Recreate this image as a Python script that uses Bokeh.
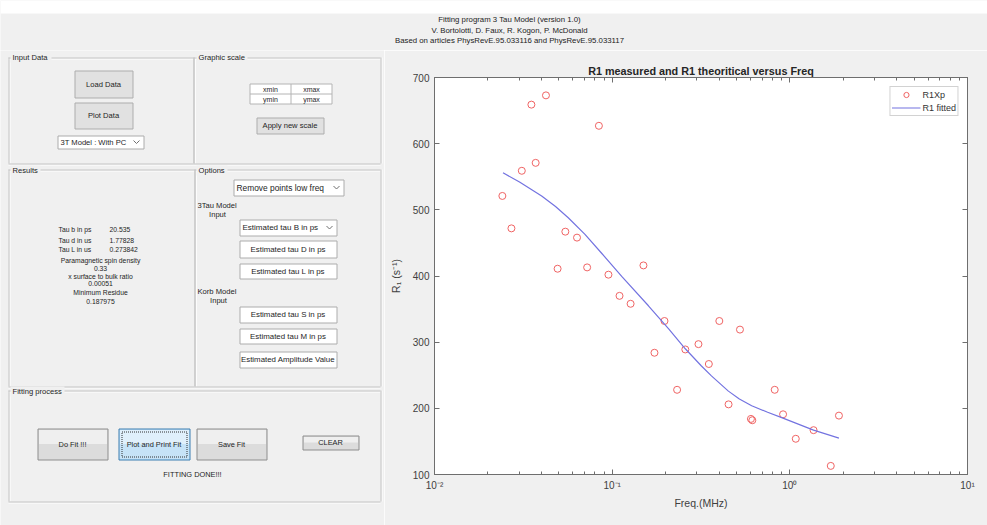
from bokeh.plotting import figure
from bokeh.models import Range1d, FixedTicker, LogAxis, LinearAxis, CustomJSTickFormatter
from bokeh.layouts import column, row
from bokeh.embed import file_html
from bokeh.resources import INLINE
from bokeh.core.properties import value

# ---------------- chart data ----------------
freq_mhz = [0.0241, 0.0271, 0.0310, 0.0351, 0.0371, 0.0424, 0.0493, 0.0545,
            0.0634, 0.0723, 0.0842, 0.0953, 0.110, 0.127, 0.150, 0.173,
            0.197, 0.232, 0.258, 0.306, 0.350, 0.401, 0.452, 0.524,
            0.604, 0.615, 0.822, 0.916, 1.08, 1.36, 1.70, 1.89]
r1_measured = [521, 472, 559, 659, 571, 673, 411, 467,
               458, 413, 627, 402, 370, 358, 416, 284,
               332, 228, 289, 297, 267, 332, 206, 319,
               184, 182, 228, 191, 154, 167, 113, 189]
fit_freq_mhz = [0.0243, 0.0301, 0.0401, 0.048, 0.0566, 0.0703, 0.0875, 0.1135,
                0.160, 0.208, 0.258, 0.318, 0.362, 0.451, 0.52, 0.61,
                0.75, 0.90, 1.36, 1.89]
r1_fitted = [556, 542, 521, 505, 488, 463, 434, 399,
             355, 320, 290, 264, 249, 226, 214, 204,
             194, 186, 167, 155]

x_tick_values = [0.01, 0.1, 1, 10]
x_tick_labels = ["10\u207b\u00b2", "10\u207b\u00b9", "10\u2070", "10\u00b9"]
y_tick_values = [100, 200, 300, 400, 500, 600, 700]

series_names = ["R1Xp", "R1 fitted"]
chart_title = "R1 measured and R1 theoritical versus Freq"
x_label = "Freq.(MHz)"
y_label = "R\u2081 (s\u207b\u00b9)"

header_lines = ["Fitting program 3 Tau Model (version 1.0)",
                "V. Bortolotti, D. Faux, R. Kogon, P. McDonald",
                "Based on articles PhysRevE.95.033116 and PhysRevE.95.033117"]
result_names = ["Tau b in ps", "Tau d in us", "Tau L in us"]
result_values = ["20.535", "1.77828", "0.273842"]
result_block = ["Paramagnetic spin density", "0.33", "x surface to bulk ratio",
                "0.00051", "Minimum Residue", "0.187975"]

# ---------------- styles ----------------
FONT = "Liberation Sans"
BG = "#f0f0f0"
TXT = "#1e1e1e"
AX = "#6e6e6e"
AXT = "#404040"
RED = "#f06464"
BLUE = "#7373e0"


def bare_fig(w, h, x1, y0, y1):
    f = figure(width=w, height=h, x_range=Range1d(0, x1), y_range=Range1d(y1, y0),
               output_backend="svg", toolbar_location=None, min_border=0,
               x_axis_location=None, y_axis_location=None, frame_align=False,
               background_fill_color=BG, border_fill_color=BG, outline_line_color=None)
    f.xgrid.visible = False
    f.ygrid.visible = False
    return f


def txt(f, x, y, s, size="7.5px", align="left", color=TXT, style="normal"):
    f.text(x=[x], y=[y], text=[s], text_align=align, text_baseline="middle",
           text_font=value(FONT), text_font_size=value(size), text_color=color,
           text_font_style=style)


# ---------------- header strip ----------------
top = bare_fig(987, 50, 987, 0, 50)
top.quad(left=[0], right=[987], top=[0], bottom=[13], fill_color="white", line_color=None)
for i, s in enumerate(header_lines):
    txt(top, 509, 19 + i * 10.5, s, size="7.8px", align="center", color="#222222")

# ---------------- left GUI ----------------
L = bare_fig(384, 475, 384, 50, 525)

gx0, gy0, gx1, gy1 = [], [], [], []
wx0, wy0, wx1, wy1 = [], [], [], []


def hline(x0, x1, y):
    gx0.append(x0); gx1.append(x1); gy0.append(y + 0.5); gy1.append(y + 0.5)
    wx0.append(x0); wx1.append(x1); wy0.append(y + 1.5); wy1.append(y + 1.5)


def vline(x, y0, y1):
    gx0.append(x + 0.5); gx1.append(x + 0.5); gy0.append(y0); gy1.append(y1)
    wx0.append(x + 1.5); wx1.append(x + 1.5); wy0.append(y0); wy1.append(y1)


def panel(x0, x1, y0, y1):
    hline(x0, x1, y0); hline(x0, x1, y1); vline(x0, y0, y1); vline(x1, y0, y1)


panel(8, 193, 57, 163)
panel(193, 380, 57, 163)
panel(8, 194, 169, 386)
panel(194, 380, 169, 386)
panel(8, 380, 390, 501)
L.segment(x0=wx0, y0=wy0, x1=wx1, y1=wy1, line_color="white", line_width=1)
L.segment(x0=gx0, y0=gy0, x1=gx1, y1=gy1, line_color="#c4c4c4", line_width=1)

panel_labels = [("Input Data", 12, 57, 37), ("Graphic scale", 198, 57, 47),
                ("Results", 12, 170, 26), ("Options", 198, 170, 27),
                ("Fitting process", 12, 391, 50)]
for s, x, y, w in panel_labels:
    L.quad(left=[x - 2], right=[x + w + 2], top=[y - 5], bottom=[y + 5], fill_color=BG, line_color=None)
    txt(L, x, y, s, size="7.6px")


def box(x0, x1, y0, y1, fill="white", line="#acacac"):
    L.quad(left=[x0 + 0.5], right=[x1 + 0.5], top=[y0 + 0.5], bottom=[y1 + 0.5],
           fill_color=fill, line_color=line, line_width=1)


def flat_button(x0, x1, y0, y1, label, size="7.6px"):
    box(x0, x1, y0, y1, fill="#e1e1e1", line="#adadad")
    txt(L, (x0 + x1) / 2, (y0 + y1) / 2, label, size=size, align="center")


def chevron(cx, cy):
    L.line(x=[cx - 3, cx, cx + 3], y=[cy - 1.5, cy + 1.5, cy - 1.5], line_color="#707070", line_width=1)


def dropdown(x0, x1, y0, y1, label, size="7.8px"):
    box(x0, x1, y0, y1, fill="white", line="#acacac")
    txt(L, x0 + 3, (y0 + y1) / 2, label, size=size)
    chevron(x1 - 7, (y0 + y1) / 2)


def edit(x0, x1, y0, y1, label, size="7.9px"):
    box(x0, x1, y0, y1, fill="white", line="#acacac")
    txt(L, (x0 + x1) / 2, (y0 + y1) / 2, label, size=size, align="center")


def win_button(x0, x1, y0, y1, label, base="#dcdcdc", upper="#efefef", line="#8e8e8e", focus=False):
    box(x0, x1, y0, y1, fill=base, line=line)
    L.quad(left=[x0 + 1.5], right=[x1 - 0.5], top=[y0 + 1.5], bottom=[(y0 + y1) / 2],
           fill_color=upper, line_color=None)
    if focus:
        L.quad(left=[x0 + 3.5], right=[x1 - 2.5], top=[y0 + 3.5], bottom=[y1 - 2.5],
               fill_color=None, line_color="#333333", line_width=1, line_dash="1 1")
    txt(L, (x0 + x1) / 2, (y0 + y1) / 2, label, size="7.4px", align="center")


# Input Data
flat_button(74, 132, 70, 97, "Load Data")
flat_button(74, 132, 102, 128, "Plot Data")
dropdown(57, 143, 135, 148, "3T Model : With PC", size="7.6px")

# Graphic scale
box(249, 331, 83, 103, fill="white", line="#b4b4b4")
L.segment(x0=[290.5, 249.5], y0=[83.5, 93.5], x1=[290.5, 331.5], y1=[103.5, 93.5],
          line_color="#b4b4b4", line_width=1)
txt(L, 270, 88.5, "xmin", size="7px", align="center")
txt(L, 311, 88.5, "xmax", size="7px", align="center")
txt(L, 270, 98.5, "ymin", size="7px", align="center")
txt(L, 311, 98.5, "ymax", size="7px", align="center")
flat_button(256, 323, 117, 133, "Apply new scale")

# Results
for i, (n, v) in enumerate(zip(result_names, result_values)):
    yy = [229, 239.7, 249.3][i]
    txt(L, 58, yy, n, size="6.8px")
    txt(L, 109, yy, v, size="6.8px")
for i, s in enumerate(result_block):
    yy = [260, 267.7, 275.7, 283.3, 291.7, 300.7][i]
    txt(L, 100, yy, s, size="6.8px", align="center")

# Options
dropdown(233, 343, 179, 195, "Remove points low freq", size="8.4px")
txt(L, 197, 205, "3Tau Model", size="7.6px")
txt(L, 217, 214, "Input", size="7.6px", align="center")
dropdown(239, 336, 219, 235, "Estimated tau B in ps", size="8px")
edit(239, 336, 240, 257, "Estimated tau D in ps")
edit(239, 336, 263, 278, "Estimated tau L in ps")
txt(L, 197, 291, "Korb Model", size="7.6px")
txt(L, 218, 299.5, "Input", size="7.6px", align="center")
edit(239, 336, 306, 322, "Estimated tau S in ps")
edit(239, 336, 328, 343, "Estimated tau M in ps")
edit(239, 336, 351, 367, "Estimated Amplitude Value")

# Fitting process
win_button(37, 107, 428, 459, "Do Fit !!!")
win_button(118, 189, 428, 459, "Plot and Print Fit", base="#c6e3f7", upper="#e0f0fb",
           line="#3c7fb1", focus=True)
win_button(196, 266, 428, 459, "Save Fit")
win_button(302, 358, 435, 449, "CLEAR")
txt(L, 192, 474, "FITTING DONE!!!", size="7.4px", align="center")

# ---------------- chart ----------------
p = figure(width=603, height=475, x_axis_type="log",
           x_range=Range1d(0.01, 10), y_range=Range1d(100, 700),
           output_backend="svg", toolbar_location=None, frame_align=False,
           min_border_left=50, min_border_right=20, min_border_top=27, min_border_bottom=51,
           background_fill_color="white", border_fill_color=BG, outline_line_color=AX)
p.xgrid.visible = False
p.ygrid.visible = False
p.title.text = chart_title
p.title.align = "center"
p.title.text_font = FONT
p.title.text_font_size = "10.8px"
p.title.text_font_style = "bold"
p.title.text_color = "#262626"
p.title.standoff = 2

minor_x = [m * d for d in (0.01, 0.1, 1) for m in range(2, 10)]
xt = FixedTicker(ticks=x_tick_values, minor_ticks=minor_x)
yt = FixedTicker(ticks=y_tick_values, minor_ticks=[])
xfmt = CustomJSTickFormatter(args=dict(vals=x_tick_values, labs=x_tick_labels), code="""
for (let i = 0; i < vals.length; i++) {
  if (Math.abs(Math.log10(tick) - Math.log10(vals[i])) < 1e-6) { return labs[i]; }
}
return "";
""")
blank = CustomJSTickFormatter(code="return '';")


def style_axis(ax, show):
    ax.axis_line_color = AX
    ax.major_tick_line_color = AX
    ax.minor_tick_line_color = AX
    ax.major_tick_in = 5
    ax.major_tick_out = 0
    ax.minor_tick_in = 3
    ax.minor_tick_out = 0
    ax.major_label_text_font = FONT
    ax.major_label_text_color = AXT
    if show:
        ax.major_label_text_font_size = "10px"
        ax.major_label_standoff = 5
        ax.axis_label_text_font = FONT
        ax.axis_label_text_font_size = "10.5px"
        ax.axis_label_text_font_style = "normal"
        ax.axis_label_text_color = AXT
    else:
        ax.major_label_text_font_size = "0px"
        ax.major_label_standoff = 0


xb = p.xaxis[0]
xb.ticker = xt
xb.formatter = xfmt
xb.axis_label = x_label
style_axis(xb, True)
xb.axis_label_standoff = 3

yl = p.yaxis[0]
yl.ticker = yt
yl.axis_label = y_label
style_axis(yl, True)
yl.axis_label_standoff = 8

xa = LogAxis(ticker=xt, formatter=blank)
style_axis(xa, False)
p.add_layout(xa, "above")
yr = LinearAxis(ticker=yt, formatter=blank)
style_axis(yr, False)
p.add_layout(yr, "right")

p.scatter(freq_mhz, r1_measured, marker="circle", size=7, fill_color=None,
          line_color=RED, line_width=1, legend_label=series_names[0])
p.line(fit_freq_mhz, r1_fitted, line_color=BLUE, line_width=1.2, legend_label=series_names[1])

leg = p.legend[0]
leg.location = "top_right"
leg.margin = 9
leg.padding = 1
leg.spacing = 0
leg.glyph_width = 29
leg.glyph_height = 13
leg.label_height = 13
leg.label_standoff = 2
leg.label_text_font = FONT
leg.label_text_font_size = "9px"
leg.label_text_color = "#333333"
leg.border_line_color = "#a6a6a6"
leg.background_fill_color = "white"
leg.background_fill_alpha = 1.0

layout = column(top, row(L, p))
open("out.html", "w").write(file_html(layout, INLINE))
